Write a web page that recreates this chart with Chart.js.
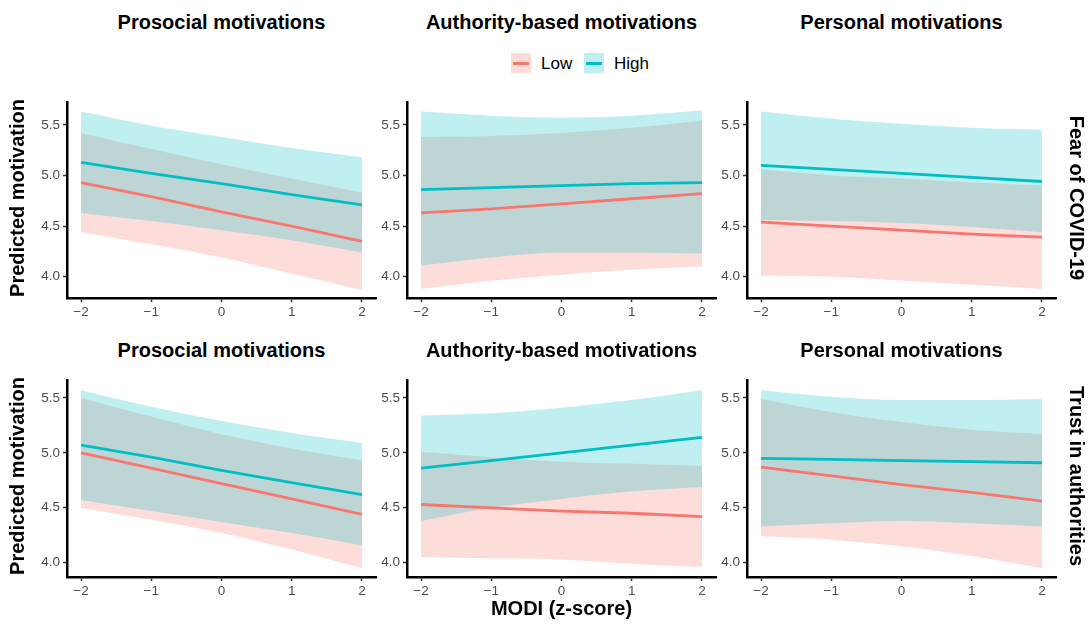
<!DOCTYPE html>
<html>
<head>
<meta charset="utf-8">
<script src="https://cdn.jsdelivr.net/npm/chart.js@4.4.0/dist/chart.umd.min.js"></script>
<style>
  body { margin: 0; background: #fff; font-family: "Liberation Sans", Arial, sans-serif; }
  #wrap { position: relative; width: 1091px; height: 624px; overflow: hidden; }
  .pane { position: absolute; }
  .t { position: absolute; white-space: nowrap; font-weight: bold; font-size: 20px; color: #000;
       transform: translate(-50%, -50%); line-height: 1; }
  .ylab { transform: translate(-50%, -50%) rotate(-90deg); }
  .strip { transform: translate(-50%, -50%) rotate(90deg); }
  .key { position: absolute; width: 20px; height: 20px; }
  .key i { position: absolute; left: 2px; right: 2px; top: 9px; height: 2.5px; }
  .lg { position: absolute; font-size: 17px; line-height: 1; transform: translateY(-50%); }
</style>
</head>
<body>
<div id="wrap"></div>
<script>
// x positions of the predicted values (MODI z-score)
const xVals = [-2, -1, 0, 1, 2];
const xTicks = [-2, -1, 0, 1, 2];
const yTicks = [4.0, 4.5, 5.0, 5.5];

const colTitles = ['Prosocial motivations', 'Authority-based motivations', 'Personal motivations'];
const rowTitles = ['Fear of COVID-19', 'Trust in authorities'];
const groups = ['Low', 'High'];

// Fear of COVID-19 / Prosocial
const fearProLow     = [4.93, 4.79, 4.64, 4.50, 4.35];
const fearProLowLwr  = [4.44, 4.32, 4.19, 4.03, 3.87];
const fearProLowUpr  = [5.42, 5.26, 5.11, 4.97, 4.83];
const fearProHigh    = [5.13, 5.02, 4.92, 4.81, 4.71];
const fearProHighLwr = [4.63, 4.55, 4.46, 4.36, 4.24];
const fearProHighUpr = [5.63, 5.49, 5.38, 5.27, 5.18];

// Fear of COVID-19 / Authority-based
const fearAuthLow     = [4.63, 4.67, 4.72, 4.77, 4.82];
const fearAuthLowLwr  = [3.88, 3.96, 4.02, 4.07, 4.10];
const fearAuthLowUpr  = [5.38, 5.39, 5.42, 5.47, 5.54];
const fearAuthHigh    = [4.86, 4.88, 4.90, 4.92, 4.93];
const fearAuthHighLwr = [4.11, 4.19, 4.24, 4.24, 4.23];
const fearAuthHighUpr = [5.63, 5.59, 5.57, 5.59, 5.64];

// Fear of COVID-19 / Personal
const fearPersLow     = [4.54, 4.50, 4.46, 4.42, 4.39];
const fearPersLowLwr  = [4.01, 4.00, 3.96, 3.92, 3.88];
const fearPersLowUpr  = [5.06, 5.00, 4.97, 4.93, 4.90];
const fearPersHigh    = [5.10, 5.06, 5.02, 4.98, 4.94];
const fearPersHighLwr = [4.56, 4.55, 4.53, 4.49, 4.44];
const fearPersHighUpr = [5.63, 5.56, 5.51, 5.47, 5.45];

// Trust in authorities / Prosocial
const trustProLow     = [5.00, 4.86, 4.72, 4.58, 4.44];
const trustProLowLwr  = [4.50, 4.39, 4.27, 4.12, 3.95];
const trustProLowUpr  = [5.50, 5.33, 5.17, 5.04, 4.93];
const trustProHigh    = [5.07, 4.96, 4.84, 4.73, 4.62];
const trustProHighLwr = [4.57, 4.47, 4.37, 4.27, 4.16];
const trustProHighUpr = [5.57, 5.42, 5.29, 5.18, 5.09];

// Trust in authorities / Authority-based
const trustAuthLow     = [4.53, 4.50, 4.47, 4.45, 4.42];
const trustAuthLowLwr  = [4.05, 4.04, 4.03, 3.99, 3.96];
const trustAuthLowUpr  = [5.01, 4.96, 4.92, 4.90, 4.88];
const trustAuthHigh    = [4.86, 4.93, 5.00, 5.07, 5.14];
const trustAuthHighLwr = [4.38, 4.50, 4.58, 4.65, 4.69];
const trustAuthHighUpr = [5.34, 5.36, 5.41, 5.48, 5.57];

// Trust in authorities / Personal
const trustPersLow     = [4.87, 4.79, 4.71, 4.64, 4.56];
const trustPersLowLwr  = [4.24, 4.21, 4.15, 4.06, 3.95];
const trustPersLowUpr  = [5.49, 5.37, 5.28, 5.21, 5.17];
const trustPersHigh    = [4.95, 4.94, 4.93, 4.92, 4.91];
const trustPersHighLwr = [4.33, 4.36, 4.38, 4.36, 4.33];
const trustPersHighUpr = [5.57, 5.51, 5.48, 5.48, 5.49];

const panels = [
  [fearProLow, fearProLowLwr, fearProLowUpr, fearProHigh, fearProHighLwr, fearProHighUpr],
  [fearAuthLow, fearAuthLowLwr, fearAuthLowUpr, fearAuthHigh, fearAuthHighLwr, fearAuthHighUpr],
  [fearPersLow, fearPersLowLwr, fearPersLowUpr, fearPersHigh, fearPersHighLwr, fearPersHighUpr],
  [trustProLow, trustProLowLwr, trustProLowUpr, trustProHigh, trustProHighLwr, trustProHighUpr],
  [trustAuthLow, trustAuthLowLwr, trustAuthLowUpr, trustAuthHigh, trustAuthHighLwr, trustAuthHighUpr],
  [trustPersLow, trustPersLowLwr, trustPersLowUpr, trustPersHigh, trustPersHighLwr, trustPersHighUpr]
];

// y limits per row (free y scales)
const rowY = [[3.79, 5.724], [3.87, 5.662]];

const RED = '#F8766D', CYAN = '#00BFC4';
const RED_F = 'rgba(248,118,109,0.25)', CYAN_F = 'rgba(0,191,196,0.25)';

// layout
const colLeft = [67, 407, 747], plotW = 309;
const rowTop = [97, 375], rowH = [201, 202];
const padL = 60, padT = 6, padR = 8, padB = 34;

const wrap = document.getElementById('wrap');
const pts = arr => arr.map((v, i) => ({ x: xVals[i], y: v }));
const minus = v => String(v).replace('-', '\u2212');

function addText(txt, x, y, cls) {
  const d = document.createElement('div');
  d.className = 't ' + (cls || '');
  d.textContent = txt;
  d.style.left = x + 'px';
  d.style.top = y + 'px';
  wrap.appendChild(d);
}

panels.forEach((p, k) => {
  const row = Math.floor(k / 3), col = k % 3;
  const [low, lowL, lowU, high, highL, highU] = p;
  const box = document.createElement('div');
  box.className = 'pane';
  box.style.left = (colLeft[col] - padL) + 'px';
  box.style.top = (rowTop[row] - padT) + 'px';
  box.style.width = (padL + plotW + padR) + 'px';
  box.style.height = (padT + rowH[row] + padB) + 'px';
  const cv = document.createElement('canvas');
  box.appendChild(cv);
  wrap.appendChild(box);

  const band = (data, color, fill) => ({
    data: pts(data), borderWidth: 0, pointRadius: 0, backgroundColor: color,
    fill: fill, cubicInterpolationMode: 'monotone'
  });
  const line = (data, color) => ({
    data: pts(data), borderColor: color, borderWidth: 2.8, pointRadius: 0, fill: false, tension: 0
  });

  new Chart(cv, {
    type: 'line',
    data: {
      datasets: [
        line(high, CYAN),
        line(low, RED),
        band(highU, CYAN_F, '+1'),
        band(highL, CYAN_F, false),
        band(lowU, RED_F, '+1'),
        band(lowL, RED_F, false)
      ]
    },
    options: {
      responsive: true,
      maintainAspectRatio: false,
      animation: false,
      events: [],
      layout: { padding: { top: padT, right: padR, left: 0, bottom: 0 } },
      plugins: { legend: { display: false }, tooltip: { enabled: false } },
      scales: {
        x: {
          type: 'linear', min: -2.2, max: 2.2,
          afterBuildTicks: s => { s.ticks = xTicks.map(v => ({ value: v })); },
          afterFit: s => { s.height = padB; },
          ticks: { color: '#4d4d4d', font: { family: 'Liberation Sans', size: 13.5 }, padding: 2,
                   maxRotation: 0, callback: v => minus(v) },
          grid: { display: true, drawOnChartArea: false, drawTicks: true, tickLength: 4,
                  tickColor: '#333', tickWidth: 1.5 },
          border: { display: true, color: '#000', width: 2.5 }
        },
        y: {
          type: 'linear', min: rowY[row][0], max: rowY[row][1],
          afterBuildTicks: s => { s.ticks = yTicks.map(v => ({ value: v })); },
          afterFit: s => { s.width = padL; },
          ticks: { color: '#4d4d4d', font: { family: 'Liberation Sans', size: 13.5 }, padding: 3,
                   callback: v => v.toFixed(1) },
          grid: { display: true, drawOnChartArea: false, drawTicks: true, tickLength: 4,
                  tickColor: '#333', tickWidth: 1.5 },
          border: { display: true, color: '#000', width: 2.5 }
        }
      }
    }
  });
});

// facet titles
const titleY = [22, 350];
for (let r = 0; r < 2; r++) {
  colTitles.forEach((t, c) => addText(t, colLeft[c] + plotW / 2, titleY[r]));
  addText('Predicted motivation', 17, rowTop[r] + rowH[r] / 2, 'ylab');
  addText(rowTitles[r], 1077, rowTop[r] + rowH[r] / 2, 'strip');
}
addText('MODI (z-score)', colLeft[1] + plotW / 2, 608);

// legend
const keyX = [511, 584], labX = [541, 614];
groups.forEach((g, i) => {
  const k = document.createElement('div');
  k.className = 'key';
  k.style.left = keyX[i] + 'px';
  k.style.top = '53px';
  k.style.background = i === 0 ? RED_F : CYAN_F;
  const bar = document.createElement('i');
  bar.style.background = i === 0 ? RED : CYAN;
  k.appendChild(bar);
  wrap.appendChild(k);
  const l = document.createElement('div');
  l.className = 'lg';
  l.style.left = labX[i] + 'px';
  l.style.top = '63px';
  l.textContent = g;
  wrap.appendChild(l);
});
</script>
</body>
</html>
